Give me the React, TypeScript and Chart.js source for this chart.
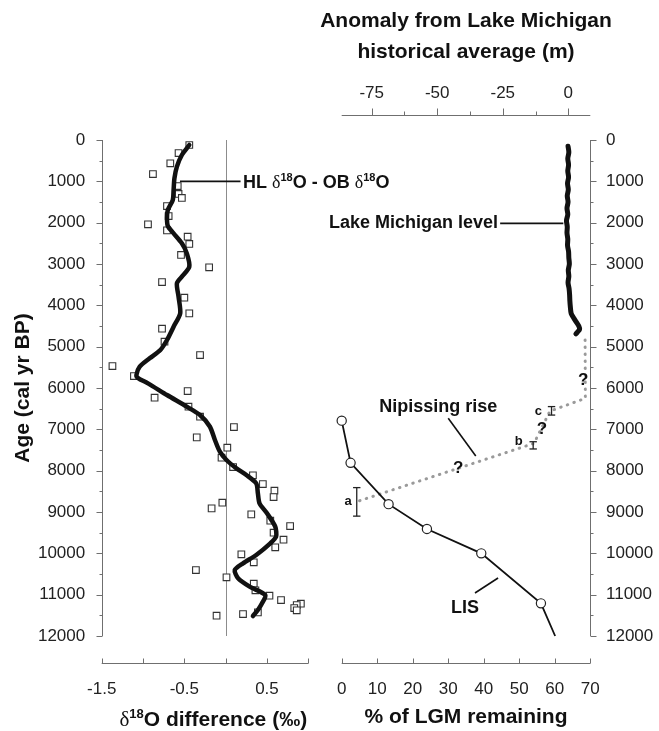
import React, { useEffect, useRef } from "react";
import { Chart, registerables } from "chart.js";
Chart.register(...registerables);

const W = 659;
const H = 731;
const SANS = '"Liberation Sans", Arial, Helvetica, sans-serif';
const SERIF = '"Liberation Serif", "DejaVu Serif", serif';
const AXIS = "#6f6f6f";
const INK = "#111";

// ---------- shared age axis ----------
const ageTicks = [0, 1000, 2000, 3000, 4000, 5000, 6000, 7000, 8000, 9000, 10000, 11000, 12000];

// ---------- left panel: δ18O difference ----------
const leftXTicks = [-1.5, -0.5, 0.5];
const leftXMinor = [-1.5, -1.0, -0.5, 0, 0.5, 1.0];
const squareAges = [121, 315, 564, 823, 1113, 1306, 1403, 1597, 1839, 2040, 2186, 2339, 2516, 2782, 3081, 3436, 3815, 4194, 4565, 4879, 5202, 5468, 5710, 6073, 6234, 6452, 6694, 6944, 7194, 7444, 7686, 7912, 8113, 8323, 8485, 8638, 8776, 8912, 9057, 9211, 9339, 9501, 9671, 9855, 10024, 10218, 10404, 10581, 10735, 10895, 11026, 11130, 11219, 11251, 11323, 11379, 11428, 11469, 11510];
const squareValues = [-0.44, -0.57, -0.67, -0.88, -0.58, -0.57, -0.53, -0.71, -0.69, -0.94, -0.71, -0.46, -0.44, -0.54, -0.2, -0.77, -0.5, -0.44, -0.77, -0.74, -0.31, -1.37, -1.11, -0.46, -0.86, -0.45, -0.31, 0.1, -0.35, 0.02, -0.05, 0.09, 0.33, 0.45, 0.59, 0.58, -0.04, -0.17, 0.31, 0.54, 0.78, 0.58, 0.7, 0.6, 0.19, 0.34, -0.36, 0.01, 0.34, 0.36, 0.53, 0.67, 0.91, 0.86, 0.83, 0.86, 0.39, 0.21, -0.11];
const smoothAges = [121, 363, 645, 927, 1210, 1452, 1694, 1895, 2081, 2258, 2500, 2742, 3065, 3307, 3468, 3791, 4194, 4517, 4839, 5081, 5282, 5485, 5686, 5760, 5887, 6170, 6452, 6654, 6937, 7258, 7541, 7742, 7944, 8106, 8307, 8549, 8791, 9032, 9355, 9598, 9758, 10040, 10242, 10404, 10605, 10807, 11008, 11210, 11371, 11516];
const smoothValues = [-0.44, -0.53, -0.59, -0.62, -0.63, -0.64, -0.7, -0.71, -0.7, -0.63, -0.53, -0.47, -0.44, -0.53, -0.59, -0.57, -0.55, -0.63, -0.71, -0.79, -0.92, -1.04, -1.08, -1.06, -0.94, -0.71, -0.47, -0.31, -0.19, -0.13, -0.07, 0.01, 0.13, 0.25, 0.37, 0.39, 0.41, 0.5, 0.6, 0.61, 0.54, 0.37, 0.21, 0.11, 0.15, 0.29, 0.48, 0.44, 0.39, 0.33];

// ---------- right panel ----------
const percentTicks = [0, 10, 20, 30, 40, 50, 60, 70];
const anomalyTicks = [-75, -50, -25, 0];
const anomalyMinor = [-75, -62.5, -50, -37.5, -25, -12.5, 0];
const lisAges = [6790, 7810, 8810, 9410, 10000, 11210, 12000];
const lisPercent = [0, 2.5, 13.2, 24, 39.3, 56.1, 60.1];
const lisMarker = [4.6, 4.6, 4.6, 4.6, 4.6, 4.6, 0];
const lakeAges = [150, 300, 450, 600, 750, 900, 1050, 1200, 1350, 1500, 1650, 1800, 1950, 2100, 2250, 2400, 2550, 2700, 2850, 3000, 3150, 3300, 3450, 3600, 3750, 3900, 4050, 4200, 4300, 4400, 4500, 4580, 4640, 4690];
const lakeAnomaly = [-0.1, 0.2, -0.2, 0.1, -0.2, 0.1, -0.3, 0.0, -0.4, -0.1, -0.5, -0.2, -0.7, -0.4, -0.5, -0.2, -0.3, 0.1, 0.2, 0.4, 0.0, 0.2, -0.1, 0.3, 0.5, 0.6, 0.8, 1.1, 2.0, 3.0, 4.0, 4.3, 3.6, 2.9];
const nipAges = [4840, 6250, 6560, 7340, 8750];
const nipAnomaly = [6.4, 6.5, -7.0, -13.1, -80.7];
const errLabels = ["a", "b", "c"];
const errAnomaly = [-80.7, -13.4, -6.4];
const errLow = [8410, 7300, 6450];
const errHigh = [9100, 7475, 6655];

// ---------- geometry (layout only) ----------
const L_LEFT = 101.7;
const L_RIGHT = 308.3;
const R_LEFT = 341.7;
const R_RIGHT = 590.3;
const TOP = 140;
const BOTTOM_BAND = 95;
const AXIS_GAP = 27;

const tickFont = { family: SANS, size: 17 };
const titleFont = { family: SANS, size: 21, weight: "bold" as const };

type Seg = { t: string; font: string; dy?: number };
function drawRich(ctx: CanvasRenderingContext2D, segs: Seg[], x: number, y: number, align: "left" | "center" | "right") {
  ctx.save();
  ctx.textBaseline = "alphabetic";
  ctx.textAlign = "left";
  ctx.fillStyle = INK;
  let total = 0;
  for (const s of segs) {
    ctx.font = s.font;
    total += ctx.measureText(s.t).width;
  }
  let cx = align === "left" ? x : align === "center" ? x - total / 2 : x - total;
  for (const s of segs) {
    ctx.font = s.font;
    ctx.fillText(s.t, cx, y + (s.dy || 0));
    cx += ctx.measureText(s.t).width;
  }
  ctx.restore();
  return total;
}

function seg(ctx: CanvasRenderingContext2D, x1: number, y1: number, x2: number, y2: number) {
  ctx.beginPath();
  ctx.moveTo(x1, y1);
  ctx.lineTo(x2, y2);
  ctx.stroke();
}

function text(ctx: CanvasRenderingContext2D, t: string, x: number, y: number, size: number, align: CanvasTextAlign = "center") {
  ctx.save();
  ctx.font = `bold ${size}px ${SANS}`;
  ctx.fillStyle = INK;
  ctx.textAlign = align;
  ctx.textBaseline = "middle";
  ctx.fillText(t, x, y);
  ctx.restore();
}

const leftDecor = {
  id: "leftDecor",
  beforeDatasetsDraw(chart: any) {
    const { ctx, scales } = chart;
    const x = scales.x, y = scales.y;
    ctx.save();
    ctx.strokeStyle = "#8c8c8c";
    ctx.lineWidth = 1;
    const x0 = Math.round(x.getPixelForValue(0)) + 0.5;
    seg(ctx, x0, y.getPixelForValue(0), x0, y.getPixelForValue(12000));
    ctx.restore();
  },
  afterDraw(chart: any) {
    const { ctx, chartArea: ca, scales } = chart;
    const x = scales.x, y = scales.y;
    ctx.save();
    ctx.strokeStyle = AXIS;
    ctx.lineWidth = 1;
    // y axis
    const xa = Math.round(ca.left) + 0.5;
    seg(ctx, xa, y.getPixelForValue(0), xa, y.getPixelForValue(12000));
    for (let v = 0; v <= 12000; v += 500) {
      const py = Math.round(y.getPixelForValue(v)) + 0.5;
      seg(ctx, xa, py, xa - (v % 1000 === 0 ? 6 : 3), py);
    }
    // detached bottom axis
    const yb = Math.round(ca.bottom + AXIS_GAP) + 0.5;
    seg(ctx, x.getPixelForValue(-1.5), yb, x.getPixelForValue(1.0), yb);
    for (const v of leftXMinor) {
      const px = Math.round(x.getPixelForValue(v)) + 0.5;
      seg(ctx, px, yb, px, yb - 5);
    }
    // series label + leader
    ctx.strokeStyle = INK;
    ctx.lineWidth = 1.6;
    const ly = y.getPixelForValue(1000);
    seg(ctx, x.getPixelForValue(-0.553), ly, x.getPixelForValue(0.18), ly);
    ctx.restore();
    const big = `bold 18px ${SANS}`;
    const sup = `bold 11px ${SANS}`;
    const dl = `18px ${SERIF}`;
    drawRich(ctx, [
      { t: "HL ", font: big }, { t: "δ", font: dl }, { t: "18", font: sup, dy: -7 }, { t: "O - OB ", font: big },
      { t: "δ", font: dl }, { t: "18", font: sup, dy: -7 }, { t: "O", font: big },
    ], x.getPixelForValue(0.21), ly + 6.5, "left");
    // axis title with superscript
    drawRich(ctx, [
      { t: "δ", font: `21px ${SERIF}` }, { t: "18", font: `bold 13px ${SANS}`, dy: -8 }, { t: "O difference (‰)", font: `bold 21px ${SANS}` },
    ], x.getPixelForValue(-0.15), H - 13 + 7.5, "center");
  },
};

const rightDecor = {
  id: "rightDecor",
  afterDraw(chart: any) {
    const { ctx, chartArea: ca, scales } = chart;
    const x = scales.x, x2 = scales.x2, y = scales.y;
    ctx.save();
    ctx.strokeStyle = AXIS;
    ctx.lineWidth = 1;
    // right y axis
    const xr = Math.round(ca.right) + 0.5;
    seg(ctx, xr, y.getPixelForValue(0), xr, y.getPixelForValue(12000));
    for (let v = 0; v <= 12000; v += 500) {
      const py = Math.round(y.getPixelForValue(v)) + 0.5;
      seg(ctx, xr, py, xr + (v % 1000 === 0 ? 6 : 3), py);
    }
    // detached bottom axis
    const yb = Math.round(ca.bottom + AXIS_GAP) + 0.5;
    seg(ctx, x.getPixelForValue(0), yb, x.getPixelForValue(70), yb);
    for (const v of percentTicks) {
      const px = Math.round(x.getPixelForValue(v)) + 0.5;
      seg(ctx, px, yb, px, yb - 5);
    }
    // detached top axis
    const yt = Math.round(ca.top - 25) + 0.5;
    seg(ctx, ca.left, yt, ca.right, yt);
    for (const v of anomalyMinor) {
      const px = Math.round(x2.getPixelForValue(v)) + 0.5;
      seg(ctx, px, yt, px, yt - (v % 25 === 0 ? 7 : 4));
    }
    // error bars
    ctx.strokeStyle = "#222";
    ctx.lineWidth = 1.3;
    errLabels.forEach((lab, i) => {
      const px = x2.getPixelForValue(errAnomaly[i]);
      const p1 = y.getPixelForValue(errLow[i]);
      const p2 = y.getPixelForValue(errHigh[i]);
      seg(ctx, px, p1, px, p2);
      seg(ctx, px - 3.7, p1, px + 3.7, p1);
      seg(ctx, px - 3.7, p2, px + 3.7, p2);
    });
    // leaders
    ctx.strokeStyle = INK;
    ctx.lineWidth = 1.6;
    const lakeY = y.getPixelForValue(2016);
    seg(ctx, x2.getPixelForValue(-26.0), lakeY, x2.getPixelForValue(-1.9), lakeY);
    seg(ctx, x2.getPixelForValue(-45.8), y.getPixelForValue(6734), x2.getPixelForValue(-35.3), y.getPixelForValue(7646));
    seg(ctx, x2.getPixelForValue(-35.6), y.getPixelForValue(10960), x2.getPixelForValue(-26.8), y.getPixelForValue(10597));
    ctx.restore();
    // labels
    text(ctx, "Lake Michigan level", x2.getPixelForValue(-26.8), lakeY, 18, "right");
    text(ctx, "Nipissing rise", x2.getPixelForValue(-49.6), y.getPixelForValue(6452), 18);
    text(ctx, "LIS", x2.getPixelForValue(-39.4), y.getPixelForValue(11323), 18);
    text(ctx, "?", x2.getPixelForValue(-42.0), y.getPixelForValue(7943), 17);
    text(ctx, "?", x2.getPixelForValue(-10.1), y.getPixelForValue(7000), 17);
    text(ctx, "?", x2.getPixelForValue(5.7), y.getPixelForValue(5807), 17);
    text(ctx, "a", x2.getPixelForValue(-84.0), y.getPixelForValue(8751), 13);
    text(ctx, "b", x2.getPixelForValue(-18.9), y.getPixelForValue(7300), 13);
    text(ctx, "c", x2.getPixelForValue(-11.4), y.getPixelForValue(6557), 13);
    // top axis title (two lines)
    const cx = (ca.left + ca.right) / 2;
    text(ctx, "Anomaly from Lake Michigan", cx, 21, 21);
    text(ctx, "historical average (m)", cx, 52, 21);
  },
};

function leftConfig(): any {
  return {
    type: "scatter",
    data: {
      datasets: [
        {
          data: smoothAges.map((a, i) => ({ x: smoothValues[i], y: a })),
          showLine: true,
          borderColor: INK,
          borderWidth: 4.5,
          pointRadius: 0,
          tension: 0.25,
          borderCapStyle: "round",
          borderJoinStyle: "round",
          clip: false,
        },
        {
          data: squareAges.map((a, i) => ({ x: squareValues[i], y: a })),
          showLine: false,
          pointStyle: "rect",
          pointRadius: 4.7,
          pointBackgroundColor: "#fff",
          pointBorderColor: "#333",
          pointBorderWidth: 1.1,
          clip: false,
        },
      ],
    },
    options: {
      animation: false,
      responsive: false,
      devicePixelRatio: 1,
      events: [],
      layout: { padding: { top: TOP, left: 0, right: W - L_RIGHT, bottom: 0 } },
      plugins: { legend: { display: false }, tooltip: { enabled: false } },
      scales: {
        x: {
          type: "linear",
          position: "bottom",
          min: -1.5,
          max: 1.0,
          afterBuildTicks: (s: any) => { s.ticks = leftXTicks.map((v) => ({ value: v })); },
          afterFit: (s: any) => { s.height = BOTTOM_BAND; },
          grid: { display: false, drawTicks: false },
          border: { display: false },
          ticks: { font: tickFont, color: "#222", padding: 42.8, maxRotation: 0, callback: (v: number) => String(v) },
          title: { display: false },
        },
        y: {
          type: "linear",
          position: "left",
          reverse: true,
          min: 0,
          max: 12000,
          afterBuildTicks: (s: any) => { s.ticks = ageTicks.map((v) => ({ value: v })); },
          afterFit: (s: any) => { s.width = L_LEFT; },
          grid: { display: false, drawTicks: false },
          border: { display: false },
          ticks: { font: tickFont, color: "#222", padding: 16.5, callback: (v: number) => String(v) },
          title: { display: true, text: "Age (cal yr BP)", font: titleFont, color: INK, padding: { top: 11, bottom: 0 } },
        },
      },
    },
    plugins: [leftDecor],
  };
}

function rightConfig(): any {
  return {
    type: "scatter",
    data: {
      datasets: [
        {
          data: lisAges.map((a, i) => ({ x: lisPercent[i], y: a })),
          xAxisID: "x",
          yAxisID: "y",
          showLine: true,
          borderColor: INK,
          borderWidth: 1.8,
          pointRadius: lisMarker,
          pointBackgroundColor: "#fff",
          pointBorderColor: "#222",
          pointBorderWidth: 1.2,
          clip: false,
        },
        {
          data: lakeAges.map((a, i) => ({ x: lakeAnomaly[i], y: a })),
          xAxisID: "x2",
          yAxisID: "y",
          showLine: true,
          borderColor: INK,
          borderWidth: 5,
          pointRadius: 0,
          tension: 0.3,
          borderCapStyle: "round",
          borderJoinStyle: "round",
          clip: false,
        },
        {
          data: nipAges.map((a, i) => ({ x: nipAnomaly[i], y: a })),
          xAxisID: "x2",
          yAxisID: "y",
          showLine: true,
          borderColor: "#9a9a9a",
          borderWidth: 3,
          borderDash: [0.5, 6.5],
          borderCapStyle: "round",
          pointRadius: 0,
          clip: false,
        },
      ],
    },
    options: {
      animation: false,
      responsive: false,
      devicePixelRatio: 1,
      events: [],
      layout: { padding: { top: 0, left: R_LEFT, right: 0, bottom: 0 } },
      plugins: { legend: { display: false }, tooltip: { enabled: false } },
      scales: {
        x: {
          type: "linear",
          position: "bottom",
          min: 0,
          max: 70,
          afterBuildTicks: (s: any) => { s.ticks = percentTicks.map((v) => ({ value: v })); },
          afterFit: (s: any) => { s.height = BOTTOM_BAND; },
          grid: { display: false, drawTicks: false },
          border: { display: false },
          ticks: { font: tickFont, color: "#222", padding: 42.8, maxRotation: 0, callback: (v: number) => String(v) },
          title: { display: true, text: "% of LGM remaining", font: titleFont, color: INK, padding: { top: 0, bottom: 1 } },
        },
        x2: {
          type: "linear",
          position: "top",
          min: -86.44,
          max: 8.39,
          afterBuildTicks: (s: any) => { s.ticks = anomalyTicks.map((v) => ({ value: v })); },
          afterFit: (s: any) => { s.height = TOP; },
          grid: { display: false, drawTicks: false },
          border: { display: false },
          ticks: { font: tickFont, color: "#222", padding: 36.8, maxRotation: 0, callback: (v: number) => String(v) },
          title: { display: false },
        },
        y: {
          type: "linear",
          position: "right",
          reverse: true,
          min: 0,
          max: 12000,
          afterBuildTicks: (s: any) => { s.ticks = ageTicks.map((v) => ({ value: v })); },
          afterFit: (s: any) => { s.width = W - R_RIGHT; },
          grid: { display: false, drawTicks: false },
          border: { display: false },
          ticks: { font: tickFont, color: "#222", padding: 15.7, callback: (v: number) => String(v) },
        },
      },
    },
    plugins: [rightDecor],
  };
}

export default function App() {
  const leftRef = useRef<HTMLCanvasElement>(null);
  const rightRef = useRef<HTMLCanvasElement>(null);
  useEffect(() => {
    const l = new Chart(leftRef.current as HTMLCanvasElement, leftConfig());
    const r = new Chart(rightRef.current as HTMLCanvasElement, rightConfig());
    return () => {
      l.destroy();
      r.destroy();
    };
  }, []);
  const cs: React.CSSProperties = { position: "absolute", left: 0, top: 0, width: W, height: H };
  return (
    <div style={{ position: "absolute", left: 0, top: 0, width: W, height: H, background: "#fff" }}>
      <canvas ref={leftRef} width={W} height={H} style={cs} />
      <canvas ref={rightRef} width={W} height={H} style={cs} />
    </div>
  );
}
